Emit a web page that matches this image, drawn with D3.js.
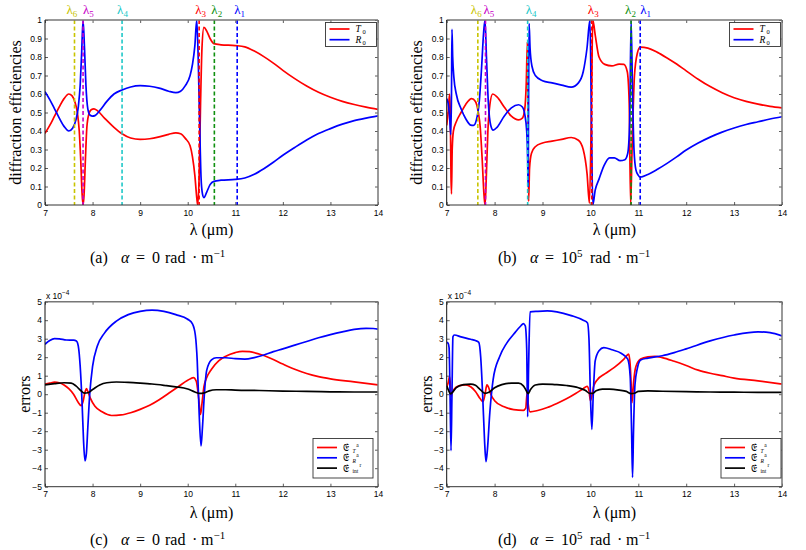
<!DOCTYPE html>
<html><head><meta charset="utf-8">
<script src="https://cdn.jsdelivr.net/npm/d3@7/dist/d3.min.js"></script>
<style>body{margin:0;background:#fff}svg{display:block}</style>
</head><body><svg id="c" width="806" height="550"></svg>
<script>
// ---------- data ----------
const xTicks = [7, 8, 9, 10, 11, 12, 13, 14];
const effTicks = [0, 0.1, 0.2, 0.3, 0.4, 0.5, 0.6, 0.7, 0.8, 0.9, 1];
const effTickLabels = ["0", "0.1", "0.2", "0.3", "0.4", "0.5", "0.6", "0.7", "0.8", "0.9", "1"];
const errTicks = [-5, -4, -3, -2, -1, 0, 1, 2, 3, 4, 5];
const errTickLabels = ["\u22125", "\u22124", "\u22123", "\u22122", "\u22121", "0", "1", "2", "3", "4", "5"];

const lambdaNames = ["6", "5", "4", "3", "2", "1"];
const lambdaA = [7.62, 7.8, 8.62, 10.24, 10.56, 11.04];
const lambdaB = [7.65, 7.81, 8.69, 10.03, 10.85, 11.04];

// (a) alpha = 0
const aT0 = [[7,0.387],[7.1,0.43],[7.2,0.48],[7.3,0.53],[7.4,0.575],[7.5,0.6],[7.57,0.59],[7.63,0.555],[7.68,0.5],[7.72,0.4],[7.75,0.25],[7.78,0.06],[7.8,0.0],[7.82,0.05],[7.85,0.25],[7.88,0.42],[7.92,0.49],[7.97,0.515],[8.03,0.52],[8.1,0.51],[8.25,0.47],[8.45,0.42],[8.62,0.385],[8.8,0.362],[9.0,0.355],[9.2,0.358],[9.4,0.368],[9.6,0.382],[9.75,0.39],[9.85,0.385],[9.95,0.36],[10.05,0.32],[10.1,0.26],[10.15,0.16],[10.19,0.04],[10.21,0.0],[10.24,0.15],[10.27,0.55],[10.3,0.85],[10.34,0.96],[10.4,0.94],[10.47,0.9],[10.55,0.872],[10.7,0.866],[11.0,0.862],[11.2,0.855],[11.4,0.832],[11.6,0.802],[11.8,0.767],[12,0.728],[12.25,0.683],[12.5,0.643],[12.75,0.609],[13,0.582],[13.25,0.56],[13.5,0.543],[13.75,0.529],[14,0.517]];
const aR0 = [[7,0.613],[7.1,0.57],[7.2,0.52],[7.3,0.47],[7.4,0.425],[7.5,0.4],[7.58,0.415],[7.65,0.46],[7.7,0.53],[7.74,0.65],[7.77,0.82],[7.8,1.0],[7.83,0.85],[7.86,0.65],[7.9,0.52],[7.95,0.485],[8.0,0.48],[8.05,0.483],[8.15,0.51],[8.3,0.56],[8.45,0.6],[8.62,0.622],[8.8,0.638],[9.0,0.645],[9.2,0.642],[9.4,0.632],[9.6,0.615],[9.75,0.607],[9.85,0.615],[9.95,0.645],[10.05,0.7],[10.1,0.76],[10.15,0.86],[10.19,1.0],[10.22,0.8],[10.25,0.45],[10.28,0.15],[10.31,0.06],[10.34,0.04],[10.4,0.07],[10.47,0.11],[10.55,0.128],[10.7,0.134],[11.0,0.138],[11.2,0.146],[11.4,0.166],[11.6,0.196],[11.8,0.231],[12.0,0.269],[12.25,0.311],[12.5,0.351],[12.75,0.386],[13.0,0.413],[13.25,0.437],[13.5,0.456],[13.75,0.47],[14,0.482]];

// (b) alpha = 1e5
const bT0 = [[7,0.43],[7.03,0.5],[7.06,0.6],[7.075,0.5],[7.09,0.15],[7.1,0.06],[7.115,0.3],[7.14,0.4],[7.2,0.45],[7.3,0.5],[7.4,0.545],[7.52,0.575],[7.6,0.56],[7.66,0.5],[7.7,0.42],[7.74,0.25],[7.78,0.05],[7.8,0.0],[7.82,0.1],[7.86,0.4],[7.9,0.54],[7.96,0.6],[8.05,0.585],[8.2,0.53],[8.35,0.48],[8.5,0.46],[8.58,0.47],[8.63,0.52],[8.66,0.65],[8.685,0.88],[8.7,0.4],[8.71,0.02],[8.73,0.2],[8.77,0.28],[8.85,0.315],[9.0,0.335],[9.2,0.345],[9.4,0.355],[9.6,0.365],[9.75,0.35],[9.85,0.3],[9.93,0.17],[9.98,0.01],[10.02,0.5],[10.05,1.0],[10.1,0.92],[10.18,0.8],[10.3,0.76],[10.45,0.752],[10.6,0.762],[10.7,0.76],[10.77,0.72],[10.81,0.55],[10.84,0.0],[10.87,0.3],[10.92,0.7],[10.98,0.82],[11.04,0.853],[11.2,0.848],[11.4,0.825],[11.6,0.795],[11.8,0.762],[12.0,0.725],[12.25,0.68],[12.5,0.64],[12.75,0.607],[13.0,0.58],[13.25,0.56],[13.5,0.545],[13.75,0.533],[14,0.525]];
const bR0 = [[7,0.575],[7.03,0.55],[7.06,0.48],[7.085,0.38],[7.1,0.6],[7.11,0.95],[7.125,0.8],[7.15,0.69],[7.2,0.6],[7.3,0.52],[7.4,0.465],[7.5,0.432],[7.56,0.43],[7.62,0.46],[7.68,0.56],[7.73,0.75],[7.77,0.93],[7.8,1.0],[7.83,0.8],[7.87,0.55],[7.92,0.43],[7.97,0.405],[8.05,0.42],[8.2,0.48],[8.35,0.525],[8.5,0.542],[8.58,0.53],[8.63,0.49],[8.67,0.4],[8.69,0.25],[8.7,0.1],[8.71,0.6],[8.72,0.98],[8.74,0.85],[8.78,0.75],[8.85,0.7],[9.0,0.672],[9.2,0.66],[9.4,0.648],[9.6,0.637],[9.75,0.66],[9.85,0.72],[9.93,0.85],[9.99,1.0],[10.02,0.5],[10.05,0.0],[10.1,0.08],[10.18,0.14],[10.28,0.21],[10.4,0.255],[10.5,0.255],[10.62,0.24],[10.72,0.245],[10.78,0.28],[10.82,0.45],[10.85,1.0],[10.88,0.6],[10.91,0.3],[10.95,0.19],[11.0,0.16],[11.04,0.15],[11.2,0.165],[11.4,0.193],[11.6,0.225],[11.8,0.26],[12.0,0.297],[12.25,0.335],[12.5,0.367],[12.75,0.394],[13.0,0.416],[13.25,0.435],[13.5,0.45],[13.75,0.465],[14,0.477]];

// (c) errors, alpha = 0 (units of 1e-4)
const cET = [[7,0.55],[7.1,0.6],[7.2,0.65],[7.3,0.62],[7.4,0.5],[7.5,0.3],[7.6,0.0],[7.7,-0.45],[7.76,-0.62],[7.8,-0.4],[7.84,0.1],[7.87,0.3],[7.9,0.15],[7.95,-0.2],[8.05,-0.65],[8.2,-0.95],[8.4,-1.15],[8.6,-1.12],[8.8,-1.0],[9.0,-0.82],[9.2,-0.6],[9.4,-0.3],[9.6,0.05],[9.8,0.4],[10.0,0.75],[10.12,0.9],[10.18,0.7],[10.23,-0.2],[10.27,-1.1],[10.3,-0.5],[10.34,0.4],[10.4,0.9],[10.5,1.35],[10.65,1.8],[10.8,2.05],[11.0,2.25],[11.15,2.32],[11.3,2.3],[11.5,2.17],[11.75,1.93],[12.0,1.63],[12.25,1.35],[12.5,1.12],[12.75,0.95],[13,0.83],[13.5,0.67],[14,0.5]];
const cER = [[7,2.7],[7.1,2.9],[7.2,3.0],[7.3,2.99],[7.45,2.93],[7.6,2.92],[7.66,2.88],[7.7,2.6],[7.74,1.5],[7.78,-0.5],[7.81,-2.5],[7.84,-3.6],[7.87,-3.2],[7.9,-1.8],[7.94,0.0],[8.0,1.5],[8.1,2.6],[8.25,3.3],[8.5,3.95],[8.75,4.3],[9.0,4.48],[9.25,4.55],[9.5,4.48],[9.75,4.3],[10.0,4.05],[10.1,3.8],[10.16,3.2],[10.2,1.8],[10.24,-1.0],[10.28,-2.8],[10.31,-1.8],[10.35,0.0],[10.4,1.3],[10.5,1.85],[10.6,1.97],[10.8,1.97],[11.0,1.92],[11.2,1.9],[11.4,1.98],[11.6,2.12],[11.8,2.3],[12,2.45],[12.25,2.65],[12.5,2.85],[12.75,3.05],[13,3.22],[13.25,3.37],[13.5,3.5],[13.75,3.56],[13.9,3.55],[14,3.52]];
const cEint = [[7,0.5],[7.2,0.57],[7.4,0.62],[7.55,0.6],[7.65,0.45],[7.75,0.2],[7.83,0.06],[7.9,0.08],[8.0,0.25],[8.15,0.5],[8.3,0.62],[8.5,0.66],[8.75,0.64],[9.0,0.6],[9.25,0.55],[9.5,0.48],[9.75,0.4],[10.0,0.28],[10.15,0.12],[10.25,0.04],[10.35,0.07],[10.45,0.18],[10.6,0.24],[10.8,0.24],[11,0.22],[11.5,0.2],[12,0.17],[12.5,0.15],[13,0.13],[13.5,0.12],[14,0.12]];

// (d) errors, alpha = 1e5 (units of 1e-4)
const dET = [[7,0.4],[7.03,0.6],[7.06,0.95],[7.08,0.4],[7.09,-0.1],[7.11,0.05],[7.15,0.25],[7.25,0.45],[7.4,0.5],[7.5,0.4],[7.6,0.15],[7.7,-0.25],[7.76,-0.4],[7.8,0.0],[7.84,0.5],[7.87,0.4],[7.92,0.0],[8.0,-0.35],[8.2,-0.68],[8.4,-0.83],[8.6,-0.87],[8.65,-0.75],[8.68,0.1],[8.7,-0.5],[8.74,-0.95],[8.9,-0.88],[9.1,-0.72],[9.3,-0.5],[9.5,-0.25],[9.7,0.05],[9.85,0.3],[9.93,0.42],[9.97,0.2],[10.0,-0.35],[10.03,-0.1],[10.07,0.45],[10.15,0.8],[10.3,1.1],[10.5,1.45],[10.7,1.9],[10.8,2.17],[10.83,1.6],[10.86,0.0],[10.87,-0.45],[10.9,0.6],[10.95,1.5],[11.05,1.9],[11.2,2.02],[11.35,2.05],[11.5,1.98],[11.75,1.78],[12,1.55],[12.25,1.3],[12.5,1.13],[12.75,1.0],[13,0.87],[13.5,0.72],[14,0.55]];
const dER = [[7,2.8],[7.03,2.75],[7.05,2.5],[7.07,0.0],[7.09,-3.05],[7.11,0.0],[7.13,3.1],[7.16,3.2],[7.3,3.1],[7.5,2.97],[7.6,2.9],[7.67,2.8],[7.71,2.0],[7.75,0.0],[7.79,-2.5],[7.82,-3.65],[7.85,-3.0],[7.9,-1.0],[7.97,0.8],[8.1,2.0],[8.25,2.75],[8.4,3.25],[8.55,3.7],[8.6,3.82],[8.64,3.7],[8.67,2.5],[8.69,-1.22],[8.71,1.5],[8.74,4.45],[8.9,4.48],[9.1,4.5],[9.3,4.45],[9.6,4.25],[9.85,4.0],[9.94,3.85],[9.97,3.0],[10.0,0.0],[10.03,-1.9],[10.06,0.0],[10.1,1.8],[10.18,2.35],[10.28,2.52],[10.45,2.4],[10.65,2.2],[10.78,1.9],[10.83,1.0],[10.86,-2.0],[10.88,-4.5],[10.9,-2.0],[10.93,0.5],[10.98,1.4],[11.05,1.85],[11.2,1.95],[11.5,2.08],[11.75,2.25],[12,2.45],[12.5,2.88],[13,3.2],[13.5,3.37],[13.75,3.33],[14,3.15]];
const dEint = [[7,0.45],[7.04,0.2],[7.08,0.02],[7.12,0.1],[7.2,0.35],[7.35,0.52],[7.5,0.55],[7.6,0.48],[7.7,0.25],[7.8,0.05],[7.88,0.1],[8.0,0.35],[8.15,0.52],[8.35,0.6],[8.5,0.6],[8.6,0.45],[8.66,0.2],[8.7,0.03],[8.75,0.25],[8.85,0.5],[9.0,0.55],[9.25,0.52],[9.5,0.47],[9.75,0.35],[9.9,0.2],[9.98,0.05],[10.05,0.05],[10.12,0.18],[10.25,0.27],[10.4,0.27],[10.6,0.22],[10.75,0.15],[10.85,0.03],[10.92,0.05],[11.0,0.15],[11.2,0.18],[11.5,0.16],[12,0.14],[12.5,0.12],[13,0.11],[13.5,0.1],[14,0.1]];

// ---------- styles / layout ----------
const SERIF = "'Liberation Serif','DejaVu Serif',serif";
const SANS = "'Liberation Sans',Arial,sans-serif";
const RED = "#ff0000", BLUE = "#0000ff", BLACK = "#000000";
const lambdaColors = ["#c8c400", "#c800c8", "#20c8c8", "#ff0000", "#109010", "#0000ff"];
const lambdaLabelDxA = [-4, 4, -1, 0, 1, 1];
const lambdaLabelDxB = [-3, 2, 2, 0, -2, 4];

const svg = d3.select("#c");
const defs = svg.append("defs");

function drawPanel(p) {
  const x = d3.scaleLinear().domain([7, 14]).range([p.l, p.r]);
  const y = d3.scaleLinear().domain(p.yDomain).range([p.b, p.t]);
  const g = svg.append("g");

  defs.append("clipPath").attr("id", "clip" + p.key)
    .append("rect").attr("x", p.l).attr("y", p.t).attr("width", p.r - p.l).attr("height", p.b - p.t);

  const styleAxis = sel => {
    sel.select(".domain").remove();
    sel.selectAll("line").attr("stroke", "#333").attr("stroke-width", 0.8);
    sel.selectAll("text").attr("font-family", SANS).attr("font-size", 8.5).attr("fill", "#000");
  };
  g.append("g").attr("transform", `translate(0,${p.b})`)
    .call(d3.axisBottom(x).tickValues(xTicks).tickSize(-3).tickPadding(p.xPad).tickFormat(d3.format("d")))
    .call(styleAxis);
  g.append("g").attr("transform", `translate(0,${p.t})`)
    .call(d3.axisTop(x).tickValues(xTicks).tickSize(-3).tickFormat(""))
    .call(styleAxis);
  g.append("g").attr("transform", `translate(${p.l},0)`)
    .call(d3.axisLeft(y).tickValues(p.yTicks).tickSize(-3).tickPadding(3).tickFormat((d, i) => p.yLabels[i]))
    .call(styleAxis);
  g.append("g").attr("transform", `translate(${p.r},0)`)
    .call(d3.axisRight(y).tickValues(p.yTicks).tickSize(-3).tickFormat(""))
    .call(styleAxis);

  const cg = g.append("g").attr("clip-path", `url(#clip${p.key})`);
  const line = d3.line().x(d => x(d[0])).y(d => y(d[1])).curve(d3.curveMonotoneX);
  p.series.forEach(s => {
    cg.append("path").datum(s.data).attr("d", line)
      .attr("fill", "none").attr("stroke", s.color).attr("stroke-width", 1.7)
      .attr("stroke-linejoin", "round");
  });

  if (p.lambdas) {
    p.lambdas.forEach((lv, i) => {
      g.append("line").attr("x1", x(lv)).attr("x2", x(lv)).attr("y1", p.t).attr("y2", p.b)
        .attr("stroke", lambdaColors[i]).attr("stroke-width", 1.6).attr("stroke-dasharray", "4,2.5");
      const t = g.append("text").attr("x", x(lv) + p.lambdaDx[i] - 4).attr("y", 14)
        .attr("font-family", SERIF).attr("font-size", 13).attr("fill", lambdaColors[i]);
      t.append("tspan").text("\u03bb");
      t.append("tspan").attr("font-size", 9).attr("dy", 3).text(lambdaNames[i]);
    });
  }

  g.append("line").attr("x1", p.l).attr("x2", p.r).attr("y1", p.t).attr("y2", p.t).attr("stroke", "#777").attr("stroke-width", 1.5);
  g.append("line").attr("x1", p.r).attr("x2", p.r).attr("y1", p.t).attr("y2", p.b).attr("stroke", "#777").attr("stroke-width", 1.5);
  g.append("line").attr("x1", p.l).attr("x2", p.l).attr("y1", p.t).attr("y2", p.b).attr("stroke", "#111").attr("stroke-width", 1);
  g.append("line").attr("x1", p.l).attr("x2", p.r).attr("y1", p.b).attr("y2", p.b).attr("stroke", "#333").attr("stroke-width", 1);

  g.append("text").attr("transform", `translate(${p.yLabX},${(p.t + p.b) / 2}) rotate(-90)`)
    .attr("text-anchor", "middle").attr("font-family", SERIF).attr("font-size", 16).text(p.yLabel);
  g.append("text").attr("x", (p.l + p.r) / 2).attr("y", p.b + p.xLabDy)
    .attr("text-anchor", "middle").attr("font-family", SERIF).attr("font-size", 16).text("\u03bb (\u03bcm)");

  if (p.exponent) {
    const ex = g.append("text").attr("x", p.l + 1).attr("y", p.t - 3).attr("font-family", SANS).attr("font-size", 8.5);
    ex.append("tspan").text("x 10");
    ex.append("tspan").attr("font-size", 6.5).attr("dy", -3.5).text("\u22124");
  }

  const L = p.legend;
  g.append("rect").attr("x", L.x).attr("y", L.y).attr("width", L.w).attr("height", L.h)
    .attr("fill", "#fff").attr("stroke", "#333").attr("stroke-width", 0.9);
  L.items.forEach((it, i) => {
    const yy = L.y + L.first + i * L.step;
    g.append("line").attr("x1", L.x + 4).attr("x2", L.x + 24).attr("y1", yy).attr("y2", yy)
      .attr("stroke", it.color).attr("stroke-width", 1.7);
    it.draw(g, L.x + 30, yy);
  });

  const o = p.capOff;
  const cap = g.append("text").attr("y", p.capY).attr("font-family", SERIF).attr("font-size", 16);
  cap.append("tspan").attr("x", p.capX).text(p.capTag);
  cap.append("tspan").attr("x", p.capX + o[0]).attr("font-style", "italic").text("\u03b1");
  cap.append("tspan").attr("x", p.capX + o[1]).text("=");
  cap.append("tspan").attr("x", p.capX + o[2]).text(p.capNum);
  if (p.capSup) cap.append("tspan").attr("font-size", 11).attr("dy", -6).text(p.capSup);
  cap.append("tspan").attr("x", p.capX + o[3]).attr("dy", p.capSup ? 6 : 0).text("rad");
  cap.append("tspan").attr("x", p.capX + o[4]).text("\u00b7");
  cap.append("tspan").attr("x", p.capX + o[5]).text("m");
  cap.append("tspan").attr("font-size", 11).attr("dy", -6).text("\u22121");
}

// italic letter with subscript 0, as two small texts so rows do not collide
function tr(name) {
  return (g, xx, yy) => {
    g.append("text").attr("x", xx).attr("y", yy + 3.2).attr("font-family", SERIF).attr("font-size", 9.5)
      .attr("font-style", "italic").text(name);
    g.append("text").attr("x", xx + 7).attr("y", yy + 5.3).attr("font-family", SERIF).attr("font-size", 6.5).text("0");
  };
}
// fraktur E with stacked sup/sub
function err(sup, sub, subItalic, supDx) {
  return (g, xx, yy) => {
    g.append("text").attr("x", xx).attr("y", yy + 3.5).attr("font-family", SERIF).attr("font-size", 10).text("\ud835\udd08");
    g.append("text").attr("x", xx + supDx).attr("y", yy - 0.8).attr("font-family", SERIF).attr("font-size", 5.5).text(sup);
    g.append("text").attr("x", xx + 9.5).attr("y", yy + 5.2).attr("font-family", SERIF).attr("font-size", 5.5)
      .attr("font-style", subItalic ? "italic" : "normal").text(sub);
  };
}

const effLegend = (lx) => ({ x: lx, y: 22.5, w: 51, h: 24, first: 6.5, step: 10.7,
  items: [{ color: RED, draw: tr("T") }, { color: BLUE, draw: tr("R") }] });
const errLegend = (lx) => ({ x: lx, y: 438.5, w: 60, h: 39.5, first: 9, step: 10.3,
  items: [{ color: RED, draw: err("a", "T", true, 13.3) }, { color: BLUE, draw: err("a", "R", true, 13.3) },
          { color: BLACK, draw: err("r", "int", false, 16.6) }] });

const capOffA = [31, 46, 62, 75, 102, 111];
const capOffB = [32, 47, 63, 92, 119, 128];

drawPanel({ key: "a", l: 45, r: 378, t: 20, b: 205, yDomain: [0, 1], yTicks: effTicks, yLabels: effTickLabels,
  xPad: 5, xLabDy: 30, yLabX: 21, yLabel: "diffraction efficiencies",
  series: [{ data: aT0, color: RED }, { data: aR0, color: BLUE }],
  lambdas: lambdaA, lambdaDx: lambdaLabelDxA, legend: effLegend(325.5),
  capX: 90, capY: 263, capTag: "(a)", capNum: "0", capOff: capOffA });
drawPanel({ key: "b", l: 446.7, r: 782, t: 20, b: 205, yDomain: [0, 1], yTicks: effTicks, yLabels: effTickLabels,
  xPad: 5, xLabDy: 30, yLabX: 422, yLabel: "diffraction efficiencies",
  series: [{ data: bT0, color: RED }, { data: bR0, color: BLUE }],
  lambdas: lambdaB, lambdaDx: lambdaLabelDxB, legend: effLegend(729.5),
  capX: 498, capY: 263, capTag: "(b)", capNum: "10", capSup: "5", capOff: capOffB });
drawPanel({ key: "c", l: 45, r: 378, t: 301.7, b: 486.7, yDomain: [-5, 5], yTicks: errTicks, yLabels: errTickLabels,
  xPad: 4, xLabDy: 31, yLabX: 30, yLabel: "errors", exponent: true,
  series: [{ data: cET, color: RED }, { data: cER, color: BLUE }, { data: cEint, color: BLACK }],
  legend: errLegend(313),
  capX: 90, capY: 545, capTag: "(c)", capNum: "0", capOff: capOffA });
drawPanel({ key: "d", l: 446.7, r: 782, t: 301.7, b: 486.7, yDomain: [-5, 5], yTicks: errTicks, yLabels: errTickLabels,
  xPad: 4, xLabDy: 31, yLabX: 432, yLabel: "errors", exponent: true,
  series: [{ data: dET, color: RED }, { data: dER, color: BLUE }, { data: dEint, color: BLACK }],
  legend: errLegend(721),
  capX: 498, capY: 545, capTag: "(d)", capNum: "10", capSup: "5", capOff: capOffB });
</script>
</body></html>
